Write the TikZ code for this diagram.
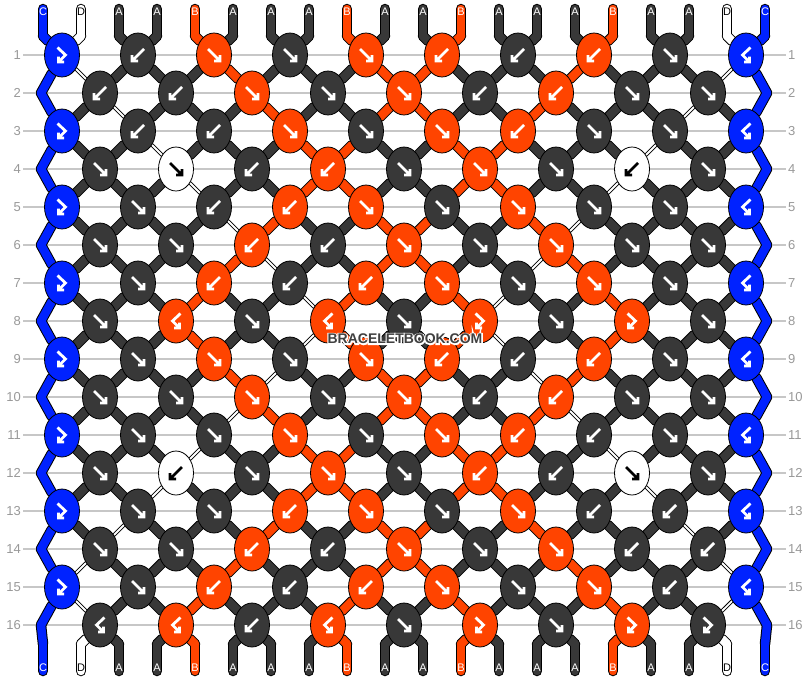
\documentclass[tikz,border=0pt]{standalone}
\usepackage{fontspec}
\setmainfont{Liberation Sans}
\usetikzlibrary{shapes.geometric}
\definecolor{thrA}{RGB}{56,56,56}
\definecolor{thrB}{RGB}{255,68,0}
\definecolor{thrC}{RGB}{0,34,255}
\definecolor{thrD}{RGB}{255,255,255}
\pgfdeclarelayer{back}
\pgfdeclarelayer{threads}
\pgfsetlayers{back,threads,main}
\tikzset {
knot/.style={shape=ellipse,draw,line width=0.8pt,fill=thr#1,minimum width=35pt,minimum height=44pt,inner sep=0pt},
oA/.style={draw=black,line width=10.5pt,line cap=round,line join=round},
oB/.style={oA}, oC/.style={oA}, oW/.style={oA},
oD/.style={draw=black,line width=3.8pt,line cap=round},
tA/.style={draw=thrA,line width=8.5pt,line cap=round,line join=round},
tB/.style={tA,draw=thrB}, tC/.style={tA,draw=thrC}, tW/.style={tA,draw=white},
tD/.style={draw=white,line width=1.8pt,line cap=round},
glA/.style={white,line width=2.8pt,line join=miter},
glB/.style={glA}, glC/.style={glA}, glD/.style={glA,black},
labA/.style={text=white,font=\fontsize{11}{11}\selectfont,inner sep=0pt},
labB/.style={labA}, labC/.style={labA}, labD/.style={labA,text=black},
rowno/.style={text=black!40,font=\fontsize{13}{13}\selectfont,inner sep=2pt},
rowline/.style={draw=black!22,line width=1.2pt},
f/.pic={\draw (-6,-6) -- (6,6) (0,6) -- (6,6) -- (6,0);},
b/.pic={\draw (6,-6) -- (-6,6) (0,6) -- (-6,6) -- (-6,0);},
fb/.pic={\draw (-4.5,-7.5) -- (3.5,0) -- (-3.5,7) (-3.5,1.5) -- (-3.5,7) -- (2,7);},
bf/.pic={\draw (4.5,-7.5) -- (-3.5,0) -- (3.5,7) (3.5,1.5) -- (3.5,7) -- (-2,7);}
}
% name of the point where string #2 sits in row #1
\newcommand\tname[2]{%
  \ifnum#1<1
    \ifnum#1<0 \edef\tn{st-#2}\else\edef\tn{s-#2}\fi
  \else\ifnum#1>16
    \ifnum#1>17 \edef\tn{en-#2}\else\edef\tn{e-#2}\fi
  \else\ifodd#1
    \pgfmathtruncatemacro\kk{#2/2}\edef\tn{k-#1-\kk}%
  \else\ifnum#2=0 \edef\tn{x-#1-0}%
  \else\ifnum#2=19 \edef\tn{x-#1-19}%
  \else\pgfmathtruncatemacro\kk{(#2-1)/2}\edef\tn{k-#1-\kk}%
  \fi\fi\fi\fi\fi}
% text with a white rim (stroked copy under the filled one)
\newcommand\rimtext[1]{%
  \rlap{\color{white}\special{pdf:literal direct 1 Tr 1 1 1 RG 2.6 w}#1\special{pdf:literal direct 0 Tr 1 w}}#1}

\begin{document}
\begin{tikzpicture}[x=1pt,y=-1pt]
\begin{pgfonlayer}{back}
\fill[white] (0,0) rectangle (810,680);
\end{pgfonlayer}
\useasboundingbox (0,0) rectangle (810,680);
% row numbers
\foreach \rw in {1,...,16} {
  \node (l-\rw) at (23,17+38*\rw) [rowno,anchor=east] {\rw};
  \node (r-\rw) at (786,17+38*\rw) [rowno,anchor=west] {\rw};
  \begin{pgfonlayer}{back}
  \draw[rowline] (l-\rw) -- (r-\rw);
  \end{pgfonlayer}
}
% string ends
\foreach \cl [count=\q from 0] in {C,D,A,A,B,A,A,A,B,A,A,B,A,A,A,B,A,A,D,C} {
  \coordinate (st-\q) at (43+38*\q,9);
  \coordinate (s-\q) at (43+38*\q,36);
  \coordinate (e-\q) at (43+38*\q,644);
  \coordinate (en-\q) at (43+38*\q,671);
  \node (top-\q) at (43+38*\q,12) [lab\cl] {\cl};
  \node (bot-\q) at (43+38*\q,668) [lab\cl] {\cl};
}
\foreach \rw in {2,4,...,16} {
  \coordinate (x-\rw-0) at (41,17+38*\rw);
  \coordinate (x-\rw-19) at (767,17+38*\rw);
}
% knots
\foreach \kn [count=\rw] in {
  {C/fb,A/b,B/f,A/f,B/f,B/b,A/b,B/b,A/f,C/bf},
  {A/b,A/b,B/f,A/f,B/f,A/b,B/b,A/f,A/f},
  {C/fb,A/b,A/b,B/f,A/f,B/f,B/b,A/f,A/f,C/bf},
  {A/f,D/f,A/b,B/b,A/f,B/f,A/f,D/b,A/f},
  {C/fb,A/f,A/b,B/b,B/f,A/f,B/f,A/f,A/f,C/bf},
  {A/f,A/f,B/b,A/b,B/f,A/f,B/f,A/f,A/f},
  {C/fb,A/f,B/b,A/b,B/b,B/f,A/f,B/f,A/f,C/bf},
  {A/f,B/bf,A/f,B/bf,A/f,B/fb,A/f,B/fb,A/f},
  {C/fb,A/f,B/f,A/f,B/f,B/b,A/b,B/b,A/f,C/bf},
  {A/f,A/f,B/f,A/f,B/f,A/b,B/b,A/f,A/f},
  {C/fb,A/f,A/f,B/f,A/f,B/f,B/b,A/b,A/f,C/bf},
  {A/f,D/b,A/f,B/f,A/f,B/b,A/b,D/f,A/f},
  {C/fb,A/f,A/f,B/b,B/f,A/f,B/f,A/b,A/b,C/bf},
  {A/f,A/f,B/b,A/b,B/f,A/f,B/f,A/b,A/b},
  {C/fb,A/f,B/b,A/b,B/b,B/f,A/f,B/f,A/b,C/bf},
  {A/bf,B/bf,A/b,B/bf,A/f,B/fb,A/f,B/fb,A/fb}} {
  \foreach \kc/\kt [count=\ki from 0] in \kn {
    \pgfmathtruncatemacro\kx{62+38*(1-mod(\rw,2))+76*\ki}
    \node (k-\rw-\ki) at (\kx,17+38*\rw) [knot=\kc] {};
    \path (k-\rw-\ki.center) pic[gl\kc] {\kt};
  }
}
% strings, outline first then colour
\begin{pgfonlayer}{threads}
\foreach \pass in {o,t} {
  \foreach \st [count=\rw from 0] in {
    {C,D,A,A,B,A,A,A,B,A,A,B,A,A,A,B,A,A,D,C},
    {C,D,A,A,B,A,A,A,B,A,A,B,A,A,A,B,A,A,D,C},
    {C,D,A,A,A,B,A,A,A,B,B,A,A,A,B,A,A,A,D,C},
    {C,A,D,A,A,A,B,A,A,B,B,A,A,B,A,A,A,D,A,C},
    {C,A,A,D,A,A,A,B,B,A,A,B,B,A,A,A,D,A,A,C},
    {C,A,A,A,D,A,A,B,B,A,A,B,B,A,A,D,A,A,A,C},
    {C,A,A,A,A,D,B,A,A,B,B,A,A,B,D,A,A,A,A,C},
    {C,A,A,A,A,B,D,A,A,B,B,A,A,D,B,A,A,A,A,C},
    {C,A,A,A,B,A,A,D,B,A,A,B,D,A,A,B,A,A,A,C},
    {C,A,A,A,B,A,A,D,B,A,A,B,D,A,A,B,A,A,A,C},
    {C,A,A,A,A,B,D,A,A,B,B,A,A,D,B,A,A,A,A,C},
    {C,A,A,A,A,D,B,A,A,B,B,A,A,B,D,A,A,A,A,C},
    {C,A,A,A,D,A,A,B,B,A,A,B,B,A,A,D,A,A,A,C},
    {C,A,A,D,A,A,A,B,B,A,A,B,B,A,A,A,D,A,A,C},
    {C,A,D,A,A,A,B,A,A,B,B,A,A,B,A,A,A,D,A,C},
    {C,D,A,A,A,B,A,A,A,B,B,A,A,A,B,A,A,A,D,C},
    {C,D,A,A,B,A,A,A,B,A,A,B,A,A,A,B,A,A,D,C},
    {C,D,A,A,B,A,A,A,B,A,A,B,A,A,A,B,A,A,D,C},
    {C,D,A,A,B,A,A,A,B,A,A,B,A,A,A,B,A,A,D,C}} {
    \pgfmathtruncatemacro\rp{\rw-1}
    \foreach \cl [count=\q from 0] in \st {
      \tname{\rp}{\q}\let\na\tn
      \tname{\rw}{\q}\let\nb\tn
      \edef\sty{\cl}
      \if\cl D\ifnum\rw<2 \def\sty{W}\fi\ifnum\rw>16 \def\sty{W}\fi\fi
      \draw[\pass\sty] (\na) -- (\nb);
    }
  }
}
\end{pgfonlayer}
\node (wm) at (405,339) [font=\bfseries\fontsize{14}{14}\selectfont,text=black!75] {\rimtext{BRACELETBOOK.COM}};
\end{tikzpicture}
\end{document}
